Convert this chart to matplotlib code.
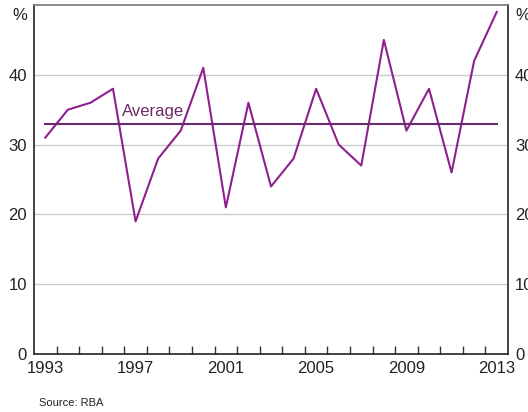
import matplotlib
matplotlib.use('Agg')
import matplotlib.pyplot as plt
import numpy as np

plt.rcParams['font.family'] = ['Liberation Sans', 'DejaVu Sans']

years = np.arange(1993, 2014)
values = [31, 35, 36, 38, 19, 28, 32, 41, 21, 36, 24, 28, 38, 30, 27, 45, 32, 38, 26, 42, 49]
average = 33
label_years = [1993, 1997, 2001, 2005, 2009, 2013]
yticks = [0, 10, 20, 30, 40]

line_col = '#8e1f8e'
avg_col = '#6b2a6b'

fig = plt.figure(figsize=(5.28, 4.12), dpi=100)
ax = fig.add_axes([34/528, 1 - 354/412, 474/528, 349/412])

x = years + 0.5
ax.plot(x, values, color=line_col, lw=1.5, zorder=3)
ax.plot([x[0], x[-1]], [average, average], color=avg_col, lw=1.5, zorder=3)
ax.text(1996.9, 33.6, 'Average', color=avg_col, fontsize=12, va='bottom', ha='left')

ax.set_xlim(1993, 2014)
ax.set_ylim(0, 50)
for v in yticks[1:]:
    ax.axhline(v, color='#cccccc', lw=1, zorder=1)

ax.set_xticks(np.arange(1994, 2014))
ax.set_xticks([y + 0.5 for y in label_years], minor=True)
ax.set_xticklabels([])
ax.set_xticklabels([str(y) for y in label_years], minor=True)
ax.tick_params(axis='x', which='major', direction='in', length=6, width=1, color='#333333')
ax.tick_params(axis='x', which='minor', length=0, labelsize=12, pad=5, colors='#222222')

ax.set_yticks(yticks)
ax.tick_params(axis='y', length=0, labelsize=12, labelleft=True, labelright=True, pad=5, colors='#222222')

for s in ['left', 'right', 'bottom']:
    ax.spines[s].set_color('#222222')
    ax.spines[s].set_linewidth(1.2)
ax.spines['top'].set_color('#777777')
ax.spines['top'].set_linewidth(1.2)

fig.text(20/528, 1 - 16/412, '%', fontsize=12, ha='center', va='center', color='#222222')
fig.text(523/528, 1 - 16/412, '%', fontsize=12, ha='center', va='center', color='#222222')
fig.text(39/528, 1 - 403/412, 'Source: RBA', fontsize=8, ha='left', va='center', color='#222222')

fig.savefig('out.png', dpi=100)
